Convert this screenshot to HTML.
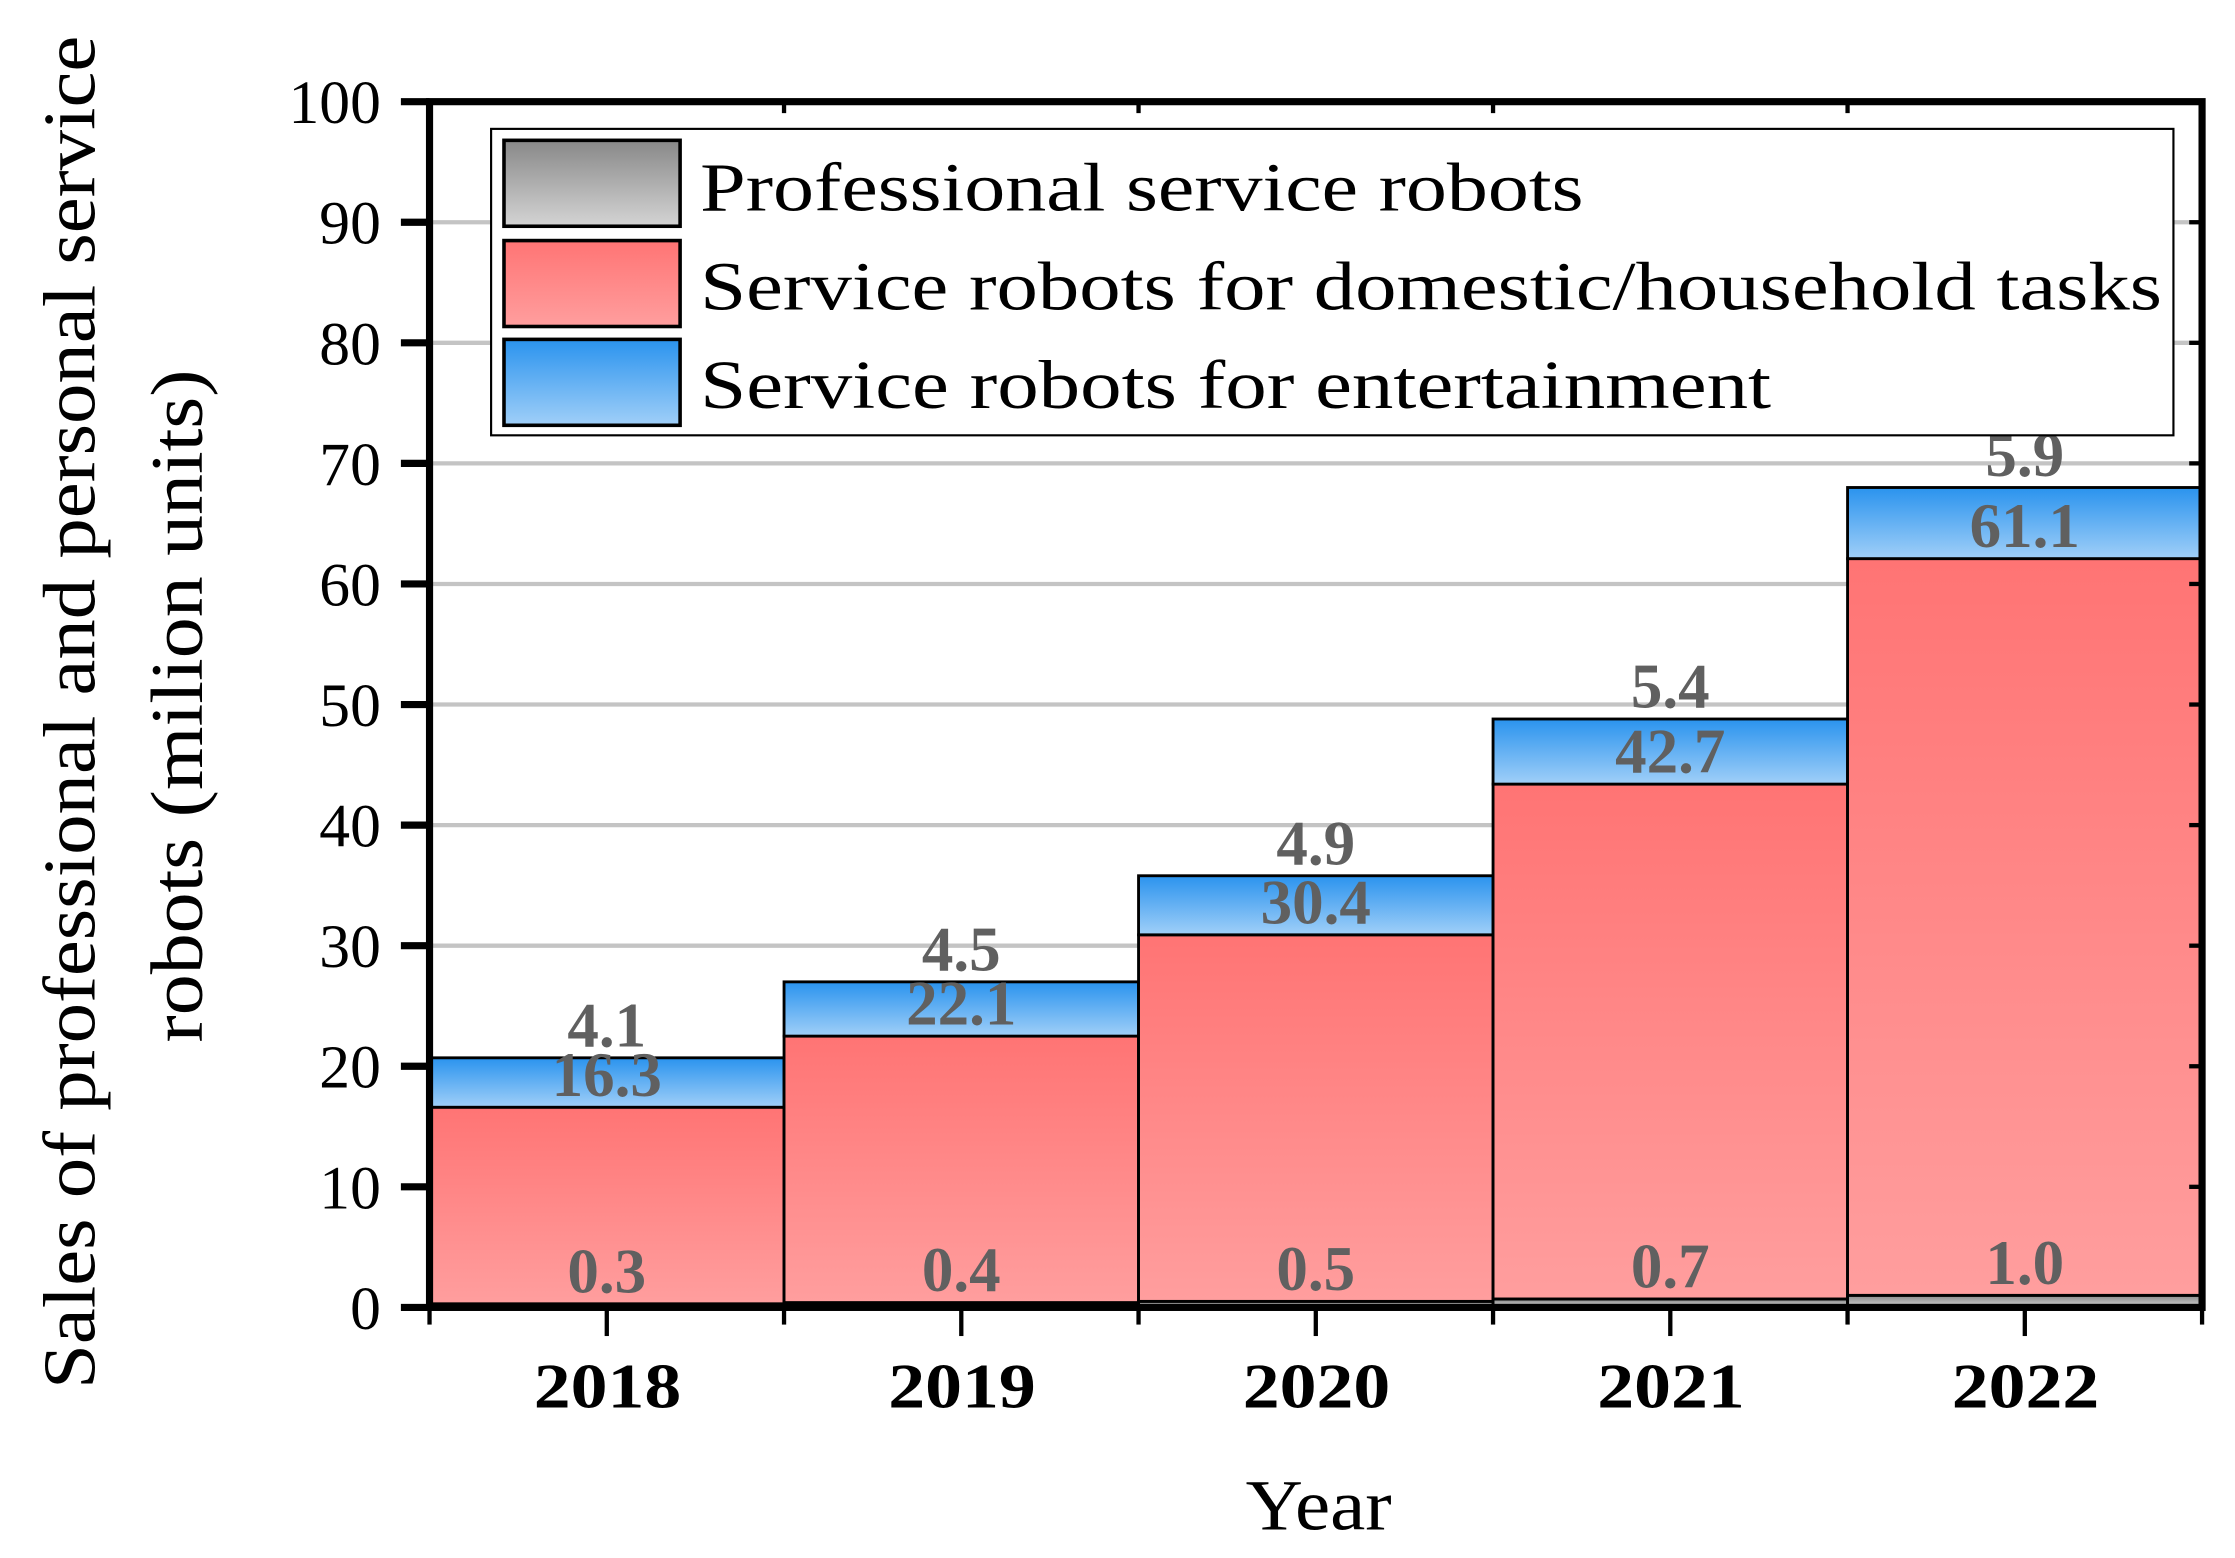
<!DOCTYPE html>
<html><head><meta charset="utf-8"><style>
html,body{margin:0;padding:0;background:#fff;}
svg{display:block;font-family:"Liberation Serif","DejaVu Serif",serif;}
</style></head><body>
<svg id="chart" width="2235" height="1558" viewBox="0 0 1561 1088" preserveAspectRatio="none" xmlns="http://www.w3.org/2000/svg">
<defs>
<linearGradient id="gGray" x1="0" y1="0" x2="0" y2="1"><stop offset="0" stop-color="#888"/><stop offset="1" stop-color="#d4d4d4"/></linearGradient>
<linearGradient id="gRed" x1="0" y1="0" x2="0" y2="1"><stop offset="0" stop-color="#ff7474"/><stop offset="1" stop-color="#ff9e9e"/></linearGradient>
<linearGradient id="gBlue" x1="0" y1="0" x2="0" y2="1"><stop offset="0" stop-color="#2a93ee"/><stop offset="1" stop-color="#a0cff8"/></linearGradient>
</defs>
<g id="grid"></g>
<g id="bars"></g>
<g id="labels"></g>
<g id="axes"></g>
<g>
<rect x="343" y="90" width="1175" height="214" fill="#fff" stroke="#000" stroke-width="1.5"/>
<rect x="352" y="98" width="123" height="60" fill="url(#gGray)" stroke="#000" stroke-width="2.5"/>
<text x="489" y="147" font-size="48" textLength="617" lengthAdjust="spacingAndGlyphs">Professional service robots</text>
<rect x="352" y="168" width="123" height="60" fill="url(#gRed)" stroke="#000" stroke-width="2.5"/>
<text x="489" y="216" font-size="48" textLength="1021" lengthAdjust="spacingAndGlyphs">Service robots for domestic/household tasks</text>
<rect x="352" y="237" width="123" height="60" fill="url(#gBlue)" stroke="#000" stroke-width="2.5"/>
<text x="489" y="285" font-size="48" textLength="748" lengthAdjust="spacingAndGlyphs">Service robots for entertainment</text>
</g>
<text x="870" y="1068" font-size="50" textLength="102" lengthAdjust="spacingAndGlyphs">Year</text>
<text transform="translate(66,970) rotate(-90)" font-size="52" textLength="945" lengthAdjust="spacingAndGlyphs">Sales of professional and personal service</text>
<text transform="translate(141,728) rotate(-90)" font-size="52" textLength="470" lengthAdjust="spacingAndGlyphs">robots (milion units)</text>
</svg>
<script>
const years = ["2018","2019","2020","2021","2022"];
const professional = [0.3,0.4,0.5,0.7,1.0];
const domestic = [16.3,22.1,30.4,42.7,61.1];
const entertainment = [4.1,4.5,4.9,5.4,5.9];
const yTicks = [0,10,20,30,40,50,60,70,80,90,100];

const NS="http://www.w3.org/2000/svg";
const L=300,R=1538,T=71,B=913,yMax=100;
const bw=(R-L)/years.length;
const y=v=>B-(v/yMax)*(B-T);
const xl=i=>L+i*bw;
function mk(tag,attrs,parent,text){const e=document.createElementNS(NS,tag);for(const k in attrs)e.setAttribute(k,attrs[k]);if(text!==undefined)e.textContent=text;parent.appendChild(e);return e;}
const grid=document.getElementById('grid'),bars=document.getElementById('bars'),labels=document.getElementById('labels'),axes=document.getElementById('axes');
yTicks.forEach(t=>{
  if(t>0&&t<100){const g=mk('line',{x1:L,x2:R,y1:y(t),y2:y(t),stroke:'#c4c4c4','stroke-width':3},grid);
  
  }
  const tk=mk('line',{x1:L-20,x2:L,y1:y(t),y2:y(t),stroke:'#000','stroke-width':5},axes);
  
  
  const rt=mk('line',{x1:R-9,x2:R,y1:y(t),y2:y(t),stroke:'#000','stroke-width':3},axes);
  
  
  const lb=mk('text',{x:L-34,y:y(t)+15,'font-size':43,'text-anchor':'end'},axes,String(t));
  
  
});
const series=[[professional,'url(#gGray)','professional'],[domestic,'url(#gRed)','domestic'],[entertainment,'url(#gBlue)','entertainment']];
years.forEach((yr,i)=>{
  let base=0;
  series.forEach(([arr,fill,nm])=>{
    const v=arr[i],top=base+v;
    const r=mk('rect',{x:xl(i),y:y(top),width:bw,height:y(base)-y(top),fill:fill,stroke:'#000','stroke-width':2},bars);
    
    
    const tx=mk('text',{x:xl(i)+bw/2,y:y(top)-8,'font-size':44,'font-weight':'bold',fill:'#606060','text-anchor':'middle'},labels,v.toFixed(1));
    
    
    base=top;
  });
  const mt=mk('line',{x1:xl(i)+bw/2,x2:xl(i)+bw/2,y1:B,y2:B+20,stroke:'#000','stroke-width':3},axes);
  
  
  const xt=mk('text',{x:xl(i)+bw/2-51,y:983,'font-size':44,'font-weight':'bold',textLength:103,lengthAdjust:'spacingAndGlyphs'},axes,yr);
  
  
});
for(let i=0;i<=years.length;i++){
  const m=mk('line',{x1:xl(i),x2:xl(i),y1:B,y2:B+12,stroke:'#000','stroke-width':3},axes);
  
  
  const tm=mk('line',{x1:xl(i),x2:xl(i),y1:T,y2:T+8,stroke:'#000','stroke-width':3},axes);
  
  
}
const frame=mk('rect',{x:L,y:T,width:R-L,height:B-T,fill:'none',stroke:'#000','stroke-width':5},axes);


</script>
</body></html>
